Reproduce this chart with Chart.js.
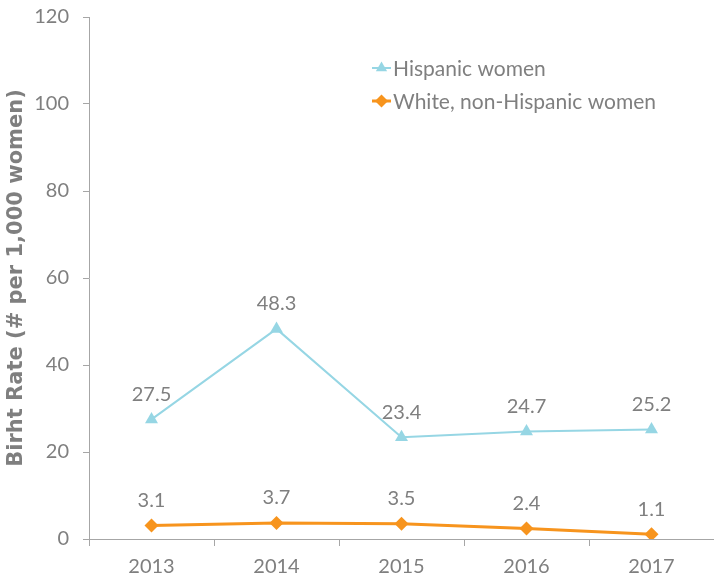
<!DOCTYPE html>
<html>
<head>
<meta charset="utf-8">
<script src="https://cdn.jsdelivr.net/npm/chart.js@4/dist/chart.umd.min.js"></script>
<style>
  html, body { margin: 0; padding: 0; background: #fff; }
  #wrap { width: 714px; height: 581px; }
</style>
</head>
<body>
<div id="wrap"><canvas id="chart"></canvas></div>
<script>
'use strict';

var years = ['2013', '2014', '2015', '2016', '2017'];
var hispanic = [27.5, 48.3, 23.4, 24.7, 25.2];
var white = [3.1, 3.7, 3.5, 2.4, 1.1];
var seriesNames = ['Hispanic women', 'White, non-Hispanic women'];

var gray = '#7f7f7f';
var axisGray = '#a6a6a6';
var blue = '#96d6e4';
var orange = '#f7941d';
var font = 'Lato, "Noto Sans", sans-serif';

// value labels above each point
var labelPlugin = {
  id: 'pointLabels',
  afterDatasetsDraw: function (chart) {
    var ctx = chart.ctx;
    ctx.save();
    ctx.font = '20px ' + font;
    ctx.fillStyle = gray;
    ctx.textAlign = 'center';
    ctx.textBaseline = 'middle';
    chart.data.datasets.forEach(function (ds, i) {
      chart.getDatasetMeta(i).data.forEach(function (pt, j) {
        ctx.fillText(ds.data[j].toFixed(1), pt.x, pt.y - 25);
      });
    });
    ctx.restore();
  }
};

// legend drawn inside the plot area
var legendPlugin = {
  id: 'innerLegend',
  afterDraw: function (chart) {
    var ctx = chart.ctx;
    var x = chart.chartArea.left + 283;
    var y = chart.chartArea.top + 51;
    ctx.save();
    ctx.font = '21px ' + font;
    ctx.textBaseline = 'middle';
    chart.data.datasets.forEach(function (ds, i) {
      var yy = y + i * 33;
      ctx.strokeStyle = ds.borderColor;
      ctx.lineWidth = ds.borderWidth;
      ctx.beginPath();
      ctx.moveTo(x, yy);
      ctx.lineTo(x + 19, yy);
      ctx.stroke();
      ctx.fillStyle = ds.borderColor;
      Chart.helpers.drawPoint(ctx, {pointStyle: ds.pointStyle, radius: 6.5, borderWidth: 0}, x + 9.5, yy);
      ctx.fillStyle = gray;
      ctx.fillText(ds.label, x + 21, yy + 1);
    });
    ctx.restore();
  }
};

var ctx = document.getElementById('chart').getContext('2d');

var chart = new Chart(ctx, {
  type: 'line',
  data: {
    labels: years,
    datasets: [{
      label: seriesNames[0],
      data: hispanic,
      borderColor: blue,
      backgroundColor: blue,
      borderWidth: 2,
      pointStyle: 'triangle',
      pointRadius: 7.5,
      pointBorderWidth: 0,
      tension: 0
    }, {
      label: seriesNames[1],
      data: white,
      borderColor: orange,
      backgroundColor: orange,
      borderWidth: 3,
      pointStyle: 'rectRot',
      pointRadius: 7,
      pointBorderWidth: 0,
      tension: 0
    }]
  },
  options: {
    responsive: true,
    maintainAspectRatio: false,
    animation: false,
    layout: { autoPadding: false, padding: { top: 17, right: 0, bottom: 0, left: 2 } },
    plugins: {
      legend: { display: false },
      tooltip: { enabled: false }
    },
    scales: {
      x: {
        offset: true,
        afterFit: function (s) { s.height = 42; },
        grid: { display: true, drawOnChartArea: false, drawTicks: true, tickLength: 7, color: axisGray, offset: true },
        border: { color: axisGray, width: 1 },
        ticks: { color: gray, font: { family: font, size: 20 }, padding: 9 }
      },
      y: {
        min: 0,
        max: 120,
        afterFit: function (s) { s.width = 87; s.paddingTop = 0; s.paddingBottom = 0; },
        ticks: { stepSize: 20, color: gray, font: { family: font, size: 20 }, padding: 14 },
        grid: { display: true, drawOnChartArea: false, drawTicks: true, tickLength: 6, color: axisGray },
        border: { color: axisGray, width: 1 },
        title: {
          display: true,
          text: 'Birht Rate (# per 1,000 women)',
          color: gray,
          font: { family: '"DejaVu Sans", sans-serif', size: 21, weight: 'bold' },
          padding: { top: 2, bottom: 2 }
        }
      }
    }
  },
  plugins: [labelPlugin, legendPlugin]
});
</script>
</body>
</html>
